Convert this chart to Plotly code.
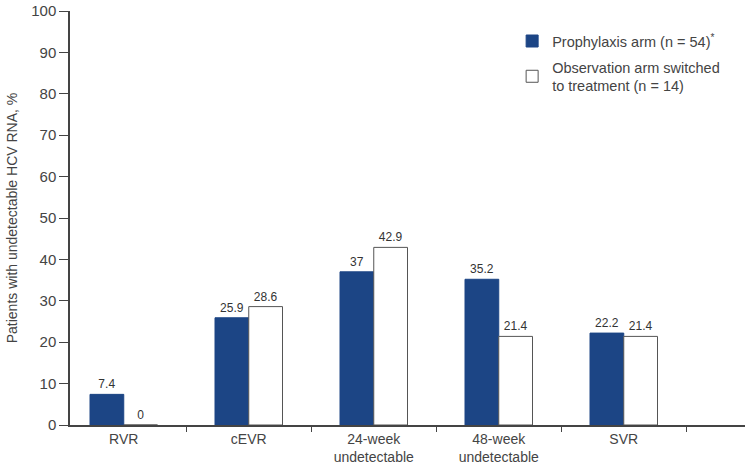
import plotly.graph_objects as go

categories = ["RVR", "cEVR", "24-week<br>undetectable", "48-week<br>undetectable", "SVR"]
prophylaxis = [7.4, 25.9, 37, 35.2, 22.2]
observation = [0, 28.6, 42.9, 21.4, 21.4]
prophylaxis_labels = ["7.4", "25.9", "37", "35.2", "22.2"]
observation_labels = ["0", "28.6", "42.9", "21.4", "21.4"]
y_ticks = [0, 10, 20, 30, 40, 50, 60, 70, 80, 90, 100]

FONT = "Liberation Sans, Arial, sans-serif"
BLUE = "#1c4585"
AXIS = "#444444"

fig = go.Figure()
fig.add_trace(go.Bar(
    x=categories, y=prophylaxis, name="Prophylaxis arm (n = 54)<sup>*</sup>",
    legendgroup="a",
    marker=dict(color=BLUE, line=dict(color=BLUE, width=1)),
    text=prophylaxis_labels, textposition="outside", cliponaxis=False,
    textfont=dict(size=12, color="#333333", family=FONT),
))
fig.add_trace(go.Bar(
    x=categories, y=observation, name="Observation arm switched<br>to treatment (n = 14)",
    legendgroup="b",
    marker=dict(color="white", line=dict(color="#555555", width=1)),
    text=observation_labels, textposition="outside", cliponaxis=False,
    textfont=dict(size=12, color="#333333", family=FONT),
))

fig.update_layout(
    width=750, height=467,
    margin=dict(l=70, r=5, t=11, b=42),
    paper_bgcolor="white", plot_bgcolor="white",
    font=dict(family=FONT, size=14, color="#444444"),
    barmode="group", bargap=0.46, bargroupgap=0,
    showlegend=True,
    legend=dict(x=0.655, y=0.966, xanchor="left", yanchor="top",
                font=dict(size=14.5, color="#444444"), tracegroupgap=4,
                bgcolor="rgba(0,0,0,0)", itemwidth=30),
)
fig.update_xaxes(
    range=[-0.43, 4.97], showline=True, linecolor=AXIS, linewidth=2,
    ticks="outside", tickson="boundaries", ticklen=5, tickcolor=AXIS,
    tickfont=dict(size=14, color="#444444"), showgrid=False, automargin=False,
    layer="above traces",
)
fig.update_yaxes(
    range=[0, 100], tickvals=y_ticks, showline=True, linecolor=AXIS, linewidth=1.5,
    ticks="outside", ticklen=9, tickcolor=AXIS, showgrid=False, zeroline=False,
    tickfont=dict(size=15, color="#444444"), automargin=False,
    title=dict(text="Patients with undetectable HCV RNA, %", font=dict(size=14, color="#444444"), standoff=10),
)

fig.write_html("out.html", post_script="document.body.style.margin='0';",
               config={"displayModeBar": False})
